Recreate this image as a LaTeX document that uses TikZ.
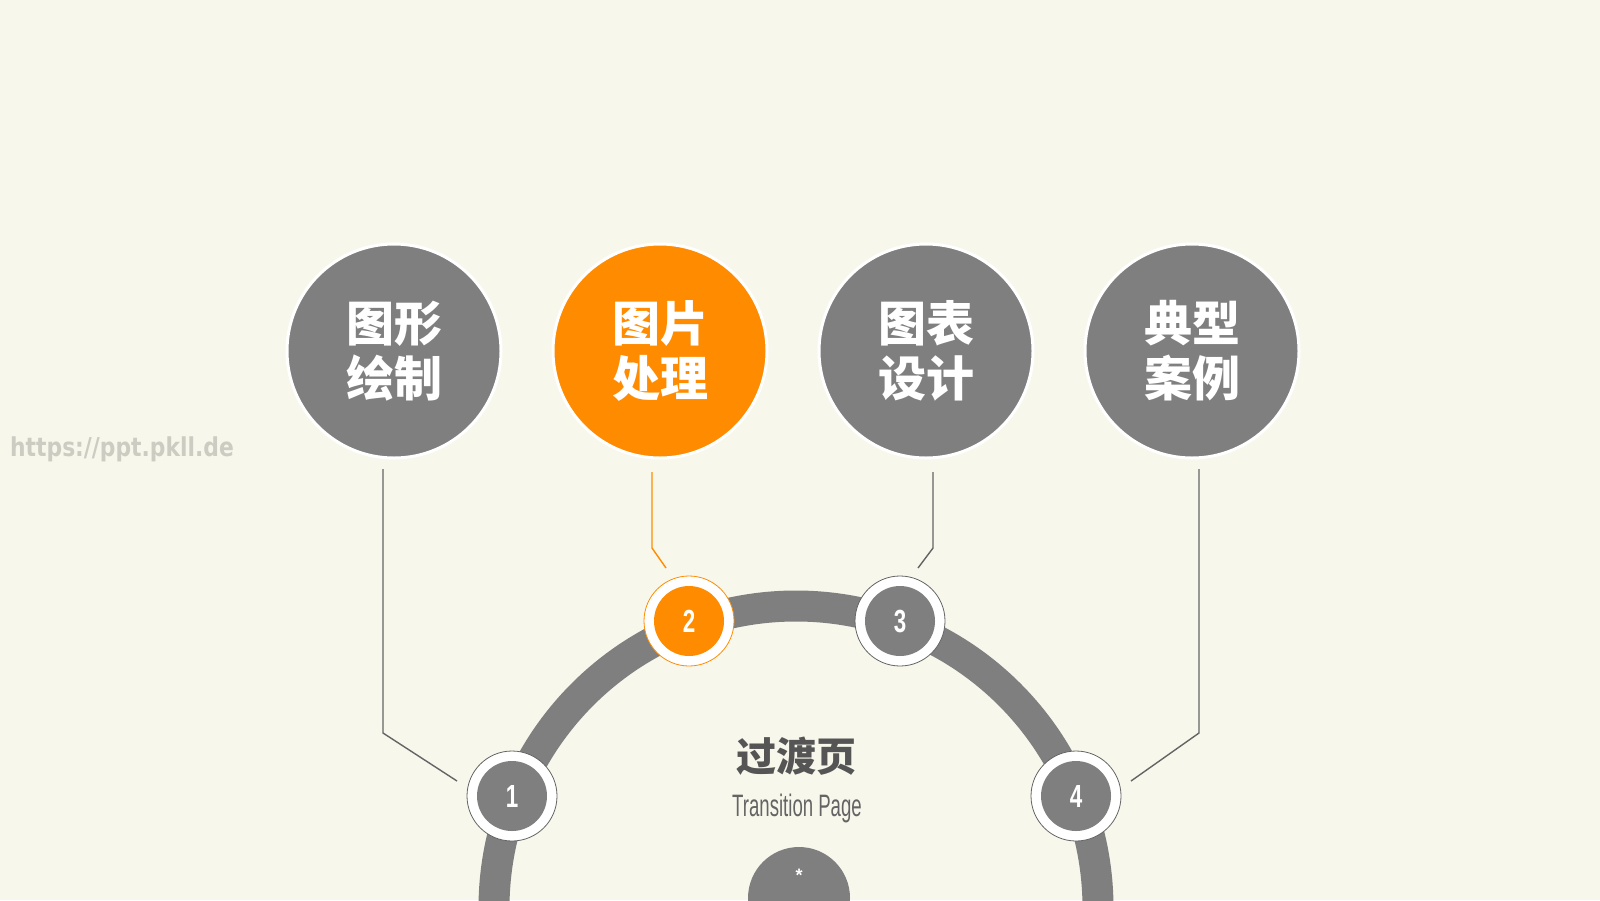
\documentclass[tikz,border=0pt]{standalone}
\usepackage{fontspec}
\setmainfont{Liberation Sans}
\newfontfamily\cjk{Noto Sans CJK SC}
\newfontfamily\wmfont{DejaVu Sans}
\definecolor{bgc}{RGB}{248,247,236}
\definecolor{cgray}{RGB}{128,127,128}
\definecolor{corange}{RGB}{255,140,0}
\definecolor{lgray}{RGB}{100,100,100}
\definecolor{tgray}{RGB}{85,85,85}
\definecolor{wmc}{RGB}{204,204,194}
\begin{document}
\begin{tikzpicture}[x=1pt,y=-1pt,
  big/.style={circle,draw=white,line width=3pt,minimum size=214pt,inner sep=0pt,text=white,align=center,
    font=\cjk\bfseries\fontsize{48}{55}\selectfont},
  smallout/.style={circle,fill=white,draw=#1,line width=0.8pt,minimum size=90pt,inner sep=0pt},
  smallin/.style={circle,fill=#1,minimum size=70pt,inner sep=0pt,text=white,
    font=\bfseries\fontsize{32}{32}\selectfont},
  conn/.style={draw=#1,line width=1.4pt},
  ring/.style={draw=cgray,line width=31pt}]
\fill[bgc] (0,0) rectangle (1600,900);
\useasboundingbox (0,0) rectangle (1600,900);
% watermark
\node[text=wmc,font=\wmfont\bfseries\fontsize{26}{26}\selectfont] (wm) at (122,449) {\scalebox{0.84}[1]{https://ppt.pkll.de}};
% ring and bottom dot
\begin{scope}
\clip (0,0) rectangle (1600,900);
\draw[ring] (796,908) circle[radius=302];
\node[circle,fill=cgray,minimum size=102pt,inner sep=0pt] (dot) at (799,898) {};
\end{scope}
\node[text=white,font=\bfseries\fontsize{18}{18}\selectfont] (ast) at (799,875) {*};
% big circles
\node[big,fill=cgray] (b1) at (394,351) {图形\\绘制};
\node[big,fill=corange] (b2) at (660,351) {图片\\处理};
\node[big,fill=cgray] (b3) at (926,351) {图表\\设计};
\node[big,fill=cgray] (b4) at (1192,351) {典型\\案例};
% small circles
\node[smallout=lgray] (o1) at (512,796) {};
\node[smallin=cgray] (s1) at (512,796) {\scalebox{0.7}[1]{1}};
\node[smallout=corange] (o2) at (689,621) {};
\node[smallin=corange] (s2) at (689,621) {\scalebox{0.7}[1]{2}};
\node[smallout=lgray] (o3) at (900,621) {};
\node[smallin=cgray] (s3) at (900,621) {\scalebox{0.7}[1]{3}};
\node[smallout=lgray] (o4) at (1076,796) {};
\node[smallin=cgray] (s4) at (1076,796) {\scalebox{0.7}[1]{4}};
% connector coordinates
\coordinate (a1) at (383,469); \coordinate (k1) at (383,733); \coordinate (e1) at (457,781);
\coordinate (a2) at (652,472); \coordinate (k2) at (652,548); \coordinate (e2) at (666,568);
\coordinate (a3) at (933,472); \coordinate (k3) at (933,548); \coordinate (e3) at (918,568);
\coordinate (a4) at (1199,469); \coordinate (k4) at (1199,733); \coordinate (e4) at (1131,781);
\draw[conn=lgray] (a1) -- (k1) -- (e1);
\draw[conn=corange] (a2) -- (k2) -- (e2);
\draw[conn=lgray] (a3) -- (k3) -- (e3);
\draw[conn=lgray] (a4) -- (k4) -- (e4);
% title
\node[text=tgray,font=\cjk\bfseries\fontsize{40}{40}\selectfont] (title) at (796,756) {过渡页};
\node[text=lgray,font=\fontsize{31}{31}\selectfont] (sub) at (797,808) {\scalebox{0.6}[1]{Transition Page}};
\end{tikzpicture}
\end{document}
